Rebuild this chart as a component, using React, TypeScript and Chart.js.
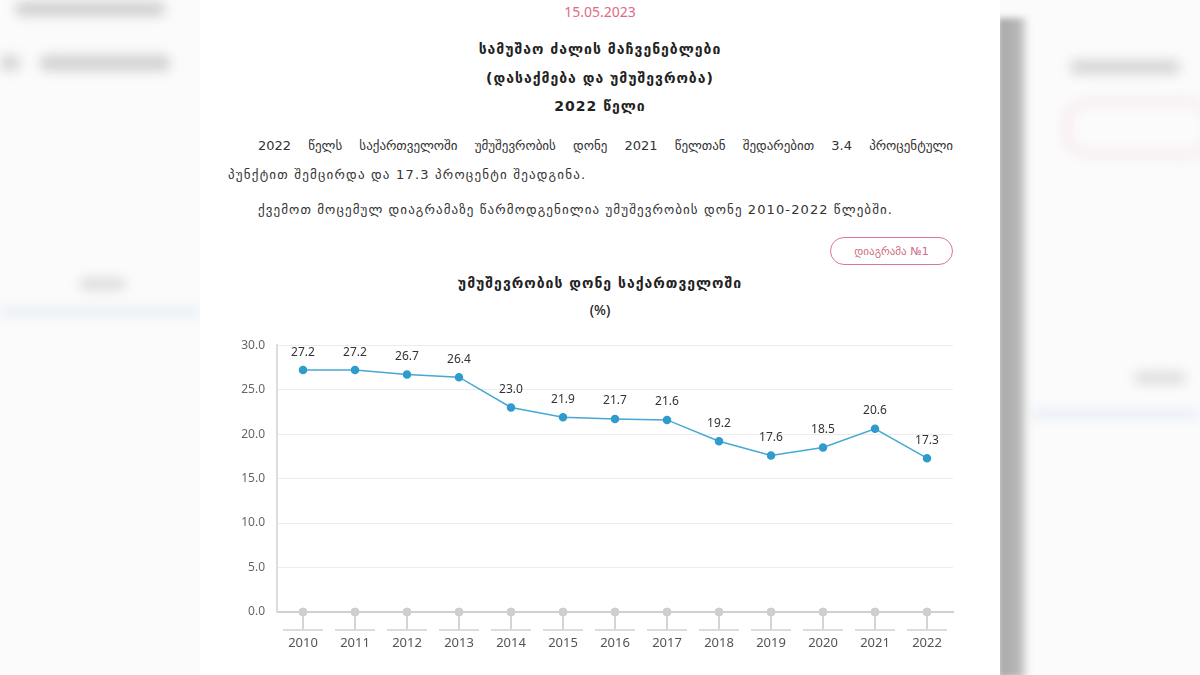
import React, { useEffect, useRef } from "react";
import { Chart, registerables } from "chart.js";

Chart.register(...registerables);

const years = ["2010", "2011", "2012", "2013", "2014", "2015", "2016", "2017", "2018", "2019", "2020", "2021", "2022"];
const unemployment = [27.2, 27.2, 26.7, 26.4, 23.0, 21.9, 21.7, 21.6, 19.2, 17.6, 18.5, 20.6, 17.3];
const baseline = [0, 0, 0, 0, 0, 0, 0, 0, 0, 0, 0, 0, 0];
const yMin = 0;
const yMax = 30;
const yStep = 5;

const dateText = "15.05.2023";
const headLines = ["სამუშაო ძალის მაჩვენებლები", "(დასაქმება და უმუშევრობა)", "2022 წელი"];
const paraLine1 = "2022 წელს საქართველოში უმუშევრობის დონე 2021 წელთან შედარებით 3.4 პროცენტული";
const paraLine2 = "პუნქტით შემცირდა და 17.3 პროცენტი შეადგინა.";
const paraLine3 = "ქვემოთ მოცემულ დიაგრამაზე წარმოდგენილია უმუშევრობის დონე 2010-2022 წლებში.";
const buttonText = "დიაგრამა №1";
const chartTitle = "უმუშევრობის დონე საქართველოში";
const chartSubtitle = "(%)";

const GEO = "'DejaVu Sans', 'Noto Sans', sans-serif";
const LAT = "'Noto Sans', 'Open Sans', sans-serif";

const labelsPlugin = {
  id: "valueLabels",
  afterDatasetsDraw(chart: any) {
    const ctx = chart.ctx;
    const meta = chart.getDatasetMeta(0);
    ctx.save();
    ctx.font = "12px " + LAT;
    ctx.fillStyle = "#333";
    ctx.textAlign = "center";
    ctx.textBaseline = "middle";
    meta.data.forEach((pt: any, i: number) => {
      ctx.fillText(unemployment[i].toFixed(1), pt.x, pt.y - 18);
    });
    ctx.restore();
  },
};

const underlinePlugin = {
  id: "underlines",
  afterDraw(chart: any) {
    const ctx = chart.ctx;
    const xs = chart.scales.x;
    const y = xs.top + 18;
    ctx.save();
    ctx.strokeStyle = "#dcdcdc";
    ctx.lineWidth = 2;
    years.forEach((_, i) => {
      const x = xs.getPixelForValue(i);
      ctx.beginPath();
      ctx.moveTo(x - 20, y);
      ctx.lineTo(x + 20, y);
      ctx.stroke();
    });
    ctx.restore();
  },
};

function LineChart() {
  const ref = useRef<HTMLCanvasElement>(null);
  useEffect(() => {
    if (!ref.current) return;
    const chart = new Chart(ref.current, {
      type: "line",
      data: {
        labels: years,
        datasets: [
          {
            data: unemployment,
            borderColor: "#45a9d2",
            backgroundColor: "#45a9d2",
            pointBackgroundColor: "#2f9ccb",
            pointBorderColor: "#2f9ccb",
            pointRadius: 3.5,
            borderWidth: 1.5,
            tension: 0,
            clip: false,
          },
          {
            data: baseline,
            showLine: false,
            pointBackgroundColor: "#cfcfcf",
            pointBorderColor: "#cfcfcf",
            pointRadius: 4,
            clip: false,
          },
        ],
      },
      options: {
        responsive: false,
        animation: false,
        devicePixelRatio: 1,
        layout: { padding: { top: 11, right: 27, bottom: 0, left: 0 } },
        plugins: { legend: { display: false }, tooltip: { enabled: false } },
        scales: {
          x: {
            offset: true,
            afterFit: (s: any) => {
              s.height = 58;
            },
            grid: {
              display: true,
              drawOnChartArea: false,
              drawTicks: true,
              tickLength: 18,
              offset: false,
              color: "#d4d4d4",
              lineWidth: 2,
            },
            border: { display: true, color: "#d0d0d0", width: 2 },
            ticks: {
              color: "#555",
              font: { family: LAT, size: 13 },
              padding: 5,
              maxRotation: 0,
            },
          },
          y: {
            min: yMin,
            max: yMax,
            afterFit: (s: any) => {
              s.width = 57;
            },
            grid: { color: "#ececec", lineWidth: 1, drawTicks: false },
            border: { display: true, color: "#dcdcdc", width: 2 },
            ticks: {
              stepSize: yStep,
              color: "#666",
              padding: 12,
              font: { family: LAT, size: 12 },
              callback: (v: any) => Number(v).toFixed(1),
            },
          },
        },
      },
      plugins: [labelsPlugin, underlinePlugin],
    });
    return () => chart.destroy();
  }, []);
  return (
    <canvas
      ref={ref}
      width={760}
      height={344}
      style={{ position: "absolute", left: 220, top: 326, width: 760, height: 344 }}
    />
  );
}

const blur = (style: React.CSSProperties) => (
  <div style={{ position: "absolute", filter: "blur(6px)", ...style }} />
);

export default function App() {
  const center: React.CSSProperties = {
    position: "absolute",
    left: 200,
    width: 800,
    textAlign: "center",
    fontFamily: GEO,
    fontWeight: "bold",
    fontSize: 14,
    letterSpacing: "1px",
    color: "#222",
    lineHeight: "18px",
  };
  const para: React.CSSProperties = {
    position: "absolute",
    fontFamily: GEO,
    fontSize: 13,
    color: "#333",
    lineHeight: "18px",
    whiteSpace: "nowrap",
  };
  return (
    <div
      style={{
        position: "fixed",
        left: 0,
        top: 0,
        width: 1200,
        height: 675,
        overflow: "hidden",
        background: "#fbfbfb",
      }}
    >
      {blur({ left: 15, top: 2, width: 150, height: 14, background: "#cfcfcf", borderRadius: 6 })}
      {blur({ left: 40, top: 55, width: 130, height: 16, background: "#d2d2d2", borderRadius: 6 })}
      {blur({ left: 0, top: 55, width: 20, height: 16, background: "#d6d6d6", borderRadius: 6 })}
      {blur({ left: 0, top: 308, width: 200, height: 8, background: "#e4ecf6", borderRadius: 4 })}
      {blur({ left: 80, top: 278, width: 45, height: 12, background: "#dcdcdc", borderRadius: 4 })}
      {blur({ left: 1070, top: 60, width: 110, height: 14, background: "#d5d5d5", borderRadius: 6 })}
      {blur({ left: 1065, top: 100, width: 140, height: 50, border: "3px solid #f3d6dc", borderRadius: 25 })}
      {blur({ left: 1135, top: 372, width: 50, height: 12, background: "#dcdcdc", borderRadius: 4 })}
      {blur({ left: 1030, top: 410, width: 170, height: 8, background: "#e4ecf6", borderRadius: 4 })}
      <div
        style={{
          position: "absolute",
          left: 998,
          top: 18,
          width: 30,
          height: 660,
          background: "linear-gradient(to right, #a8a8a8, #b8b8b8 70%, #f0f0f0)",
          filter: "blur(3px)",
        }}
      />
      <div style={{ position: "absolute", left: 200, top: 0, width: 800, height: 675, background: "#ffffff" }} />

      <div style={{ ...center, top: 3, fontWeight: "normal", fontFamily: LAT, fontSize: 14, letterSpacing: 0, color: "#dd6c86" }}>
        {dateText}
      </div>
      <div style={{ ...center, top: 40 }}>{headLines[0]}</div>
      <div style={{ ...center, top: 69 }}>{headLines[1]}</div>
      <div style={{ ...center, top: 97 }}>{headLines[2]}</div>

      <div style={{ ...para, left: 258, top: 137, width: 695, textAlign: "justify", textAlignLast: "justify", whiteSpace: "normal" }}>
        {paraLine1}
      </div>
      <div style={{ ...para, left: 228, top: 166, letterSpacing: "1.2px" }}>{paraLine2}</div>
      <div style={{ ...para, left: 258, top: 201, letterSpacing: "1.1px" }}>{paraLine3}</div>

      <div
        style={{
          position: "absolute",
          left: 830,
          top: 237,
          width: 123,
          height: 28,
          boxSizing: "border-box",
          border: "1.5px solid #d97890",
          borderRadius: 15,
          color: "#d06a82",
          fontFamily: GEO,
          fontSize: 11,
          display: "flex",
          alignItems: "center",
          justifyContent: "center",
        }}
      >
        {buttonText}
      </div>

      <div style={{ ...center, top: 274 }}>{chartTitle}</div>
      <div style={{ ...center, top: 301, fontFamily: LAT, fontWeight: 500, fontSize: 14, letterSpacing: 0 }}>{chartSubtitle}</div>

      <LineChart />
    </div>
  );
}
